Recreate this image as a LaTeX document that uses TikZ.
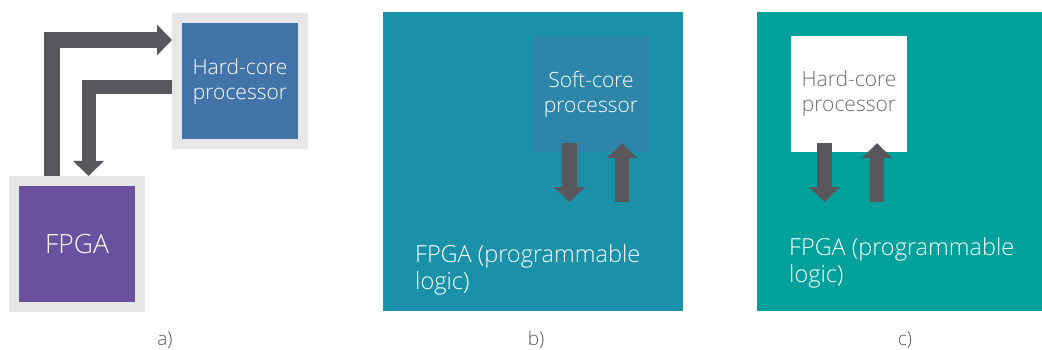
\documentclass[tikz,border=0pt]{standalone}
\usepackage{fontspec}
\IfFontExistsTF{Open Sans Light}{\setmainfont{Open Sans Light}}{\setmainfont{Open Sans}}
\usetikzlibrary{arrows.meta,calc}

\definecolor{frame}{HTML}{E6E6E6}
\definecolor{cpublue}{HTML}{4374A9}
\definecolor{fpgapurple}{HTML}{6951A0}
\definecolor{tealb}{HTML}{1A91A8}
\definecolor{softblue}{HTML}{2D85AA}
\definecolor{tealc}{HTML}{00A19A}
\definecolor{arrowgray}{HTML}{58575C}
\definecolor{textgray}{HTML}{6D6E71}
\definecolor{capgray}{HTML}{58595B}

\begin{document}
\begin{tikzpicture}[x=1pt,y=-1pt,
  framed/.style={draw=frame,line width=10pt,minimum size=126pt,inner sep=0pt,
    text=white,align=center},
  block/.style={minimum size=116pt,inner sep=0pt,align=center},
  cpufont/.style={font=\fontsize{21}{25}\selectfont},
  bus/.style={draw=arrowgray,line width=15pt,line join=miter,
    -{Triangle[width=30pt,length=15pt]}},
  label/.style={font=\fontsize{23.5}{27}\selectfont},
  caption/.style={text=capgray,font=\fontsize{19}{22}\selectfont}]

\useasboundingbox (0,0) rectangle (1042,350);

% a) separate FPGA and hard-core processor
\node[framed,fill=cpublue,cpufont] (hca) at (240,81.5) {Hard-core\\processor};
\node[framed,fill=fpgapurple,font=\fontsize{26.5}{30}\selectfont] (fpgaa) at (77,244) {FPGA};
\draw[bus,line width=16pt] ($(fpgaa.north)+(-25.5,0)$) |- ($(hca.west)+(0,-41.5)$);
\draw[bus,line width=14pt] ($(hca.west)+(0,6)$) -| ($(fpgaa.north)+(11.5,0)$);
\node[caption] (capa) at (165,340) {a)};

% b) soft-core processor inside the programmable logic
\node[fill=tealb,minimum width=300pt,minimum height=299pt,inner sep=0pt] (fpgab) at (533,161.5) {};
\node[block,fill=softblue,text=white,cpufont] (softb) at (591,94) {Soft-core\\processor};
\coordinate (bdtop) at ($(softb.south)+(-21.5,-9)$);
\coordinate (bdbot) at ($(softb.south)+(-21.5,50)$);
\coordinate (butop) at ($(softb.south)+(31,-9)$);
\coordinate (bubot) at ($(softb.south)+(31,50)$);
\draw[bus] (bdtop) -- (bdbot);
\draw[bus,line width=14pt] (bubot) -- (butop);
\node[label,text=white,align=left,anchor=base west,inner sep=0pt] (txtb) at (415,289) {FPGA (programmable\\logic)};
\node[caption] (capb) at (536,340) {b)};

% c) hard-core processor on the same chip as the programmable logic
\node[fill=tealc,minimum width=285pt,minimum height=299pt,inner sep=0pt] (fpgac) at (899.5,161.5) {};
\node[block,fill=white,text=textgray,cpufont] (hcc) at (849,94) {Hard-core\\processor};
\coordinate (cdtop) at ($(hcc.south)+(-24.5,-9)$);
\coordinate (cdbot) at ($(hcc.south)+(-24.5,50)$);
\coordinate (cutop) at ($(hcc.south)+(28,-9)$);
\coordinate (cubot) at ($(hcc.south)+(28,50)$);
\draw[bus] (cdtop) -- (cdbot);
\draw[bus,line width=14pt] (cubot) -- (cutop);
\node[label,text=white,align=left,anchor=base west,inner sep=0pt] (txtc) at (789,282) {FPGA (programmable\\logic)};
\node[caption] (capc) at (905,340) {c)};
\end{tikzpicture}
\end{document}
